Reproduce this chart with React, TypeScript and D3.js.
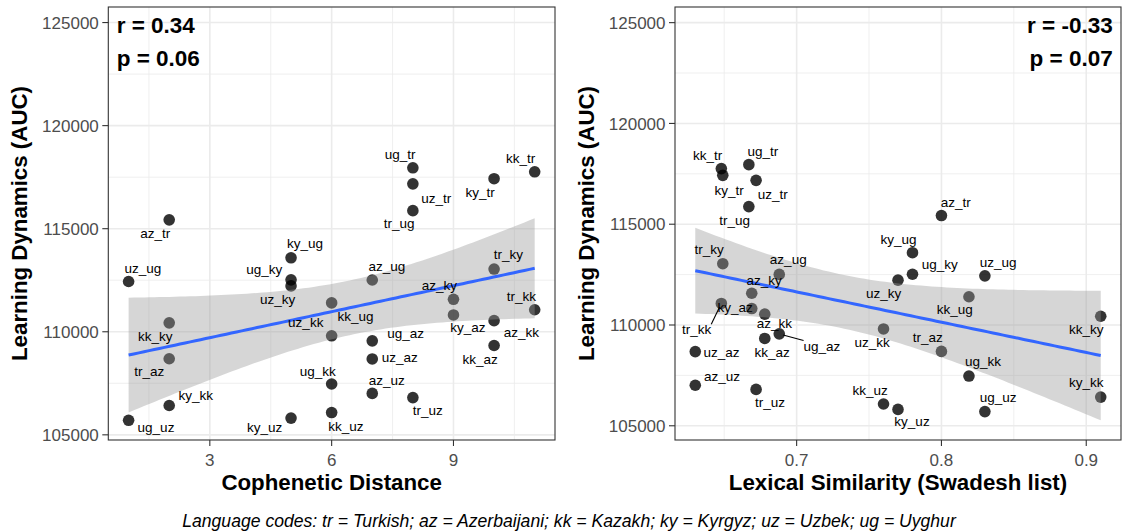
import React from "react";
import * as d3 from "d3";

// ---- data ----
const pairLabels = ["ug_tr","uz_tr","tr_ug","ky_tr","kk_tr","az_tr","ky_ug","ug_ky","uz_ky","uz_ug","az_ug","tr_ky","az_ky","ky_az","tr_kk","az_kk","kk_az","kk_ug","uz_kk","ug_az","uz_az","kk_ky","tr_az","ug_kk","az_uz","tr_uz","ky_kk","ug_uz","ky_uz","kk_uz"];
const learningAUC = [117955,117175,115875,117425,117760,115430,113587,112518,112225,112438,112511,113042,111575,110816,111068,110538,109333,111401,109804,109560,108680,110433,108690,107467,107010,106805,106423,105704,105812,106081];

const languagePairs = ["tr-ug","tr-uz","tr-ky","tr-kk","tr-az","ky-ug","ky-uz","ug-uz","az-ug","az-uz","az-ky","az-kk","kk-ug","kk-uz","kk-ky"];
const copheneticDistance = [8,8,10,11,2,5,5,1,7,7,9,10,6,6,2];
const lexicalSimilarity = [0.667,0.672,0.649,0.648,0.8,0.78,0.77,0.83,0.688,0.63,0.669,0.678,0.819,0.76,0.91];

const yTicks = [105000,110000,115000,120000,125000];
const leftXTicks = [3,6,9];
const rightXTicks = [0.7,0.8,0.9];
const annotationAUC = 124800;

const leftStats = ["r = 0.34","p = 0.06"];
const rightStats = ["r = -0.33","p = 0.07"];
const caption = "Language codes: tr = Turkish; az = Azerbaijani; kk = Kazakh; ky = Kyrgyz; uz = Uzbek; ug = Uyghur";

// label placement (repel-style nudges in px: dx, dy to baseline, draw segment)
const leftLabelNudge: [number,number,boolean?][] = [[-12.7,-9],[23.3,19],[-13.7,17.6],[-14,18],[-14,-9],[-14,18.3],[14,-9.4],[-26.8,-5.7],[-13.5,18.3],[14.4,-9],[14.7,-8.7],[14.4,-10],[-14,-9.6],[14.3,17.3],[-13.3,-9],[27.4,16.6],[-14,18.3],[23.8,18],[-25.9,-8.4],[33.4,-2.7],[27.4,2.7],[-14,18.6],[-20,17.7],[-14,-8.3],[14.4,-8.6],[14.8,17.3],[26.5,-5],[27.4,11.6],[-26.5,14],[14.3,18]];
const rightLabelNudge: [number,number,boolean?][] = [[14,-9],[16.6,18.3],[-14.3,18.3],[6.4,19.3],[-13.7,-9],[14.3,-8.4],[-14,-9],[27.3,-5.7],[-14.3,18.3],[13.3,-9],[9,-10.7],[-13.6,-9.3],[12.3,-8],[-16.7,3.4],[-24.7,30.7,true],[9.7,14.3],[7.4,18.4],[-14.3,17.3],[-11.3,17.7],[42.7,16.7,true],[26.3,5.6],[-14.4,17.7],[-13.7,-9.4],[14,-9.6],[26.7,-4],[14,17.6],[-14.4,-10],[13.3,-9.4],[14,16.6],[-13.3,-9.3]];

const FONT = "'Liberation Sans', Arial, Helvetica, sans-serif";

function pairValue(label: string, table: number[]) {
  const key = label.split("_").sort().join("-");
  const i = languagePairs.findIndex((p) => p.split("-").sort().join("-") === key);
  return table[i];
}

function fitLm(xs: number[], ys: number[]) {
  const n = xs.length;
  const mx = d3.mean(xs)!, my = d3.mean(ys)!;
  let sxx = 0, sxy = 0;
  xs.forEach((x, i) => { sxx += (x - mx) ** 2; sxy += (x - mx) * (ys[i] - my); });
  const b = sxy / sxx, a = my - b * mx;
  let sse = 0;
  xs.forEach((x, i) => { sse += (ys[i] - a - b * x) ** 2; });
  const s = Math.sqrt(sse / (n - 2));
  const t = 2.048407;
  const [x0, x1] = d3.extent(xs) as [number, number];
  return d3.range(80).map((i) => {
    const x = x0 + ((x1 - x0) * i) / 79;
    const fit = a + b * x;
    const se = s * Math.sqrt(1 / n + (x - mx) ** 2 / sxx);
    return { x, fit, lo: fit - t * se, hi: fit + t * se };
  });
}

function labelWidth(s: string, size: number) {
  const w: Record<string, number> = { u: .556, g: .556, _: .556, t: .278, r: .333, k: .5, y: .5, z: .5, a: .556 };
  return s.split("").reduce((acc, c) => acc + (w[c] ?? .55), 0) * size;
}

interface PanelProps {
  x0: number; x1: number; y0: number; y1: number;
  xs: number[]; xTicks: number[]; xTitle: string; fmt: (v: number) => string;
  nudge: [number, number, boolean?][]; stats: string[]; statsRight: boolean;
}

function Panel({ x0, x1, y0, y1, xs, xTicks, xTitle, fmt, nudge, stats, statsRight }: PanelProps) {
  const ys = learningAUC;
  const band = fitLm(xs, ys);
  const [xmin, xmax] = d3.extent(xs) as [number, number];
  const xpad = (xmax - xmin) * 0.05;
  const x = d3.scaleLinear().domain([xmin - xpad, xmax + xpad]).range([x0, x1]);
  const ylo = Math.min(d3.min(ys)!, d3.min(band, (d) => d.lo)!);
  const yhi = Math.max(d3.max(ys)!, d3.max(band, (d) => d.hi)!, annotationAUC);
  const ypad = (yhi - ylo) * 0.05;
  const y = d3.scaleLinear().domain([ylo - ypad, yhi + ypad]).range([y1, y0]);

  const step = xTicks[1] - xTicks[0];
  const xMinor = d3.range(xTicks[0] - step * 4, xTicks[xTicks.length - 1] + step * 4, step)
    .map((v) => v + step / 2).filter((v) => x(v) > x0 && x(v) < x1);
  const yMinor = d3.range(100000, 130000, 5000).map((v) => v + 2500).filter((v) => y(v) > y0 && y(v) < y1);

  const area = d3.area<any>().x((d) => x(d.x)).y0((d) => y(d.lo)).y1((d) => y(d.hi));
  const line = d3.line<any>().x((d) => x(d.x)).y((d) => y(d.fit));
  const clipId = `clip-${x0}`;
  const labelSize = 13.5;

  return (
    <g>
      <defs><clipPath id={clipId}><rect x={x0} y={y0} width={x1 - x0} height={y1 - y0} /></clipPath></defs>
      <rect x={x0} y={y0} width={x1 - x0} height={y1 - y0} fill="#fff" />
      {xMinor.map((v) => <line key={"xm" + v} x1={x(v)} x2={x(v)} y1={y0} y2={y1} stroke="#ebebeb" strokeWidth={0.8} />)}
      {yMinor.map((v) => <line key={"ym" + v} x1={x0} x2={x1} y1={y(v)} y2={y(v)} stroke="#ebebeb" strokeWidth={0.8} />)}
      {xTicks.map((v) => <line key={"xM" + v} x1={x(v)} x2={x(v)} y1={y0} y2={y1} stroke="#ebebeb" strokeWidth={1.6} />)}
      {yTicks.map((v) => <line key={"yM" + v} x1={x0} x2={x1} y1={y(v)} y2={y(v)} stroke="#ebebeb" strokeWidth={1.6} />)}
      <g clipPath={`url(#${clipId})`}>
        {ys.map((v, i) => <circle key={"p" + i} cx={x(xs[i])} cy={y(v)} r={5.8} fill="#000" fillOpacity={0.8} />)}
        <path d={area(band)!} fill="#999999" fillOpacity={0.4} />
        <path d={line(band)!} fill="none" stroke="#3366FF" strokeWidth={3} />
      </g>
      {pairLabels.map((lab, i) => {
        const px = x(xs[i]), py = y(ys[i]);
        const [dx, dy, seg] = nudge[i];
        const lx = px + dx, ly = py + dy;
        let segEl = null;
        if (seg) {
          const w = labelWidth(lab, labelSize);
          const bx = Math.max(lx - w / 2, Math.min(px, lx + w / 2));
          const by = Math.max(ly - 10, Math.min(py, ly + 3));
          const ang = Math.atan2(by - py, bx - px);
          segEl = <line x1={px + Math.cos(ang) * 4} y1={py + Math.sin(ang) * 4} x2={bx} y2={by} stroke="#000" strokeWidth={1.1} />;
        }
        return (
          <g key={"l" + i}>
            {segEl}
            <text x={lx} y={ly} textAnchor="middle" fontSize={labelSize} fontFamily={FONT} fill="#000">{lab}</text>
          </g>
        );
      })}
      {stats.map((s, i) => (
        <text key={"s" + i} x={statsRight ? x1 - 8.3 : x0 + 8.4} y={33.3 + i * 33} textAnchor={statsRight ? "end" : "start"}
          fontSize={22.5} fontWeight="bold" fontFamily={FONT} fill="#000">{s}</text>
      ))}
      <rect x={x0} y={y0} width={x1 - x0} height={y1 - y0} fill="none" stroke="#333" strokeWidth={1.1} />
      {yTicks.map((v) => (
        <g key={"yt" + v}>
          <line x1={x0 - 6} x2={x0} y1={y(v)} y2={y(v)} stroke="#333" strokeWidth={1.1} />
          <text x={x0 - 9.5} y={y(v)} dy="0.36em" textAnchor="end" fontSize={17} fontFamily={FONT} fill="#4d4d4d">{v}</text>
        </g>
      ))}
      {xTicks.map((v) => (
        <g key={"xt" + v}>
          <line x1={x(v)} x2={x(v)} y1={y1} y2={y1 + 6} stroke="#333" strokeWidth={1.1} />
          <text x={x(v)} y={465.5} textAnchor="middle" fontSize={17} fontFamily={FONT} fill="#4d4d4d">{fmt(v)}</text>
        </g>
      ))}
      <text x={(x0 + x1) / 2} y={490} textAnchor="middle" fontSize={22.3} fontWeight="bold" fontFamily={FONT} fill="#000">{xTitle}</text>
      <text transform={`translate(${x0 - 81},${(y0 + y1) / 2}) rotate(-90)`} textAnchor="middle" fontSize={22.3} fontWeight="bold" fontFamily={FONT} fill="#000">Learning Dynamics (AUC)</text>
    </g>
  );
}

export default function App() {
  const leftX = pairLabels.map((l) => pairValue(l, copheneticDistance));
  const rightX = pairLabels.map((l) => pairValue(l, lexicalSimilarity));
  return (
    <svg width={1122} height={531} style={{ position: "absolute", left: 0, top: 0, background: "#fff" }}>
      <rect width={1122} height={531} fill="#fff" />
      <Panel x0={108.3} x1={555} y0={7} y1={440} xs={leftX} xTicks={leftXTicks} xTitle="Cophenetic Distance"
        fmt={(v) => String(v)} nudge={leftLabelNudge} stats={leftStats} statsRight={false} />
      <Panel x0={675} x1={1121} y0={7} y1={440} xs={rightX} xTicks={rightXTicks} xTitle="Lexical Similarity (Swadesh list)"
        fmt={(v) => v.toFixed(1)} nudge={rightLabelNudge} stats={rightStats} statsRight={true} />
      <text x={569} y={527} textAnchor="middle" fontSize={17.6} fontStyle="italic" fontFamily={FONT} fill="#000">{caption}</text>
    </svg>
  );
}
